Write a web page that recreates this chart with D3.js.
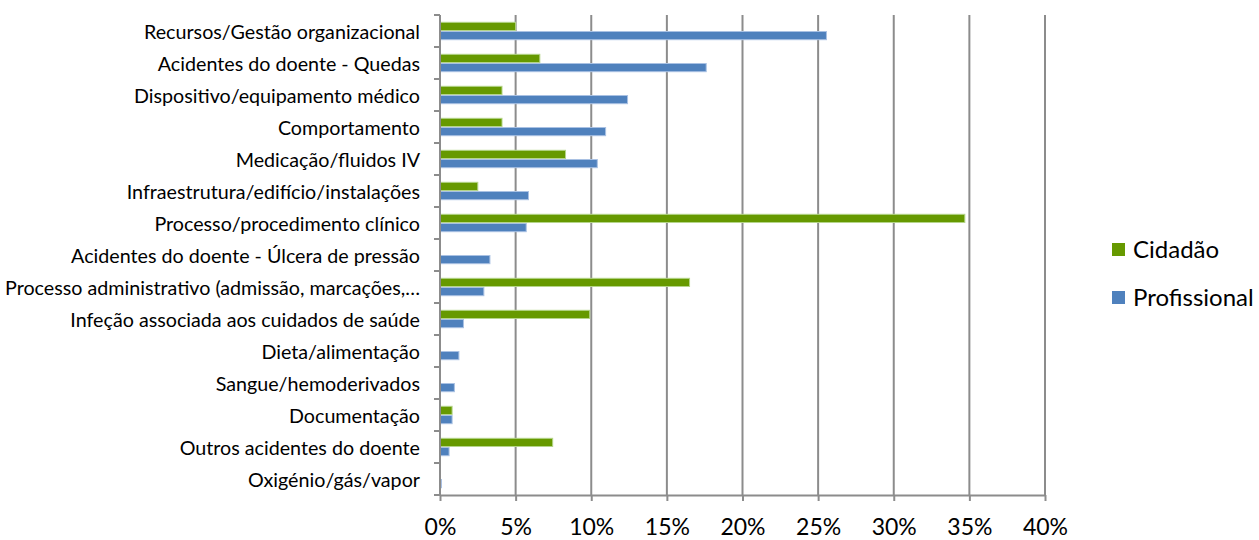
<!DOCTYPE html>
<html>
<head>
<meta charset="utf-8">
<script src="https://cdn.jsdelivr.net/npm/d3@7"></script>
<style>
  body { margin: 0; background: #fff; }
  text { font-family: Lato, "Open Sans", sans-serif; fill: #000; }
</style>
</head>
<body>
<div id="chart"></div>
<script>
// Categories (top to bottom)
var categories = [
  "Recursos/Gestão organizacional",
  "Acidentes do doente - Quedas",
  "Dispositivo/equipamento médico",
  "Comportamento",
  "Medicação/fluidos IV",
  "Infraestrutura/edifício/instalações",
  "Processo/procedimento clínico",
  "Acidentes do doente - Úlcera de pressão",
  "Processo administrativo (admissão, marcações,…",
  "Infeção associada aos cuidados de saúde",
  "Dieta/alimentação",
  "Sangue/hemoderivados",
  "Documentação",
  "Outros acidentes do doente",
  "Oxigénio/gás/vapor"
];

// Series values (%)
var cidadao =      [5.0, 6.6, 4.1, 4.1, 8.3, 2.5, 34.7, 0, 16.5, 9.9, 0, 0, 0.8, 7.45, 0];
var profissional = [25.55, 17.6, 12.4, 10.95, 10.4, 5.85, 5.7, 3.3, 2.9, 1.55, 1.25, 0.95, 0.8, 0.6, 0.1];

var seriesNames = ["Cidadão", "Profissional"];
var xTicks = [0, 5, 10, 15, 20, 25, 30, 35, 40];

var width = 1259,
    height = 540;
var margin = {top: 15, left: 440, right: 214, bottom: 45};
var plotW = width - margin.left - margin.right,
    plotH = height - margin.top - margin.bottom;

var colors = {"Cidadão": "#669900", "Profissional": "#4f81bd"};
var strokes = {"Cidadão": "#b5d58a", "Profissional": "#a9c1e3"};

var svg = d3.select("#chart")
            .append("svg")
              .attr("width", width)
              .attr("height", height);

var g = svg.append("g")
           .attr("transform", "translate(" + margin.left + "," + margin.top + ")");

var x = d3.scaleLinear()
          .domain([0, 40])
          .range([0, plotW]);

var y = d3.scaleBand()
          .domain(categories)
          .range([0, plotH])
          .paddingInner(0.425)
          .paddingOuter(0.2125);

var ySub = d3.scaleBand()
             .domain(seriesNames)
             .range([0, y.bandwidth()]);

// Gridlines
g.append("g")
  .selectAll("line")
  .data(xTicks.slice(1))
  .enter()
  .append("line")
    .attr("x1", function(d) { return x(d); })
    .attr("x2", function(d) { return x(d); })
    .attr("y1", 0)
    .attr("y2", plotH)
    .attr("stroke", "#8c8c8c")
    .attr("stroke-width", 2);

// Bars
var rows = categories.map(function(c, i) {
  return {cat: c, values: [
    {name: "Cidadão", value: cidadao[i]},
    {name: "Profissional", value: profissional[i]}
  ]};
});

var rowG = g.selectAll(".row")
            .data(rows)
            .enter()
            .append("g")
              .attr("class", "row")
              .attr("transform", function(d) { return "translate(0," + y(d.cat) + ")"; });

rowG.selectAll("rect")
    .data(function(d) { return d.values.filter(function(v) { return v.value > 0; }); })
    .enter()
    .append("rect")
      .attr("x", x(0))
      .attr("y", function(d) { return ySub(d.name) + 0.5; })
      .attr("width", function(d) { return x(d.value); })
      .attr("height", ySub.bandwidth() - 1)
      .attr("fill", function(d) { return colors[d.name]; })
      .attr("stroke", function(d) { return strokes[d.name]; })
      .attr("stroke-width", 1);

// Y axis
var yAxis = g.append("g")
             .call(d3.axisLeft(y).tickSize(0).tickPadding(20));
yAxis.select(".domain").remove();
yAxis.selectAll("text")
     .attr("dy", "0.38em")
     .style("font-size", "19.7px");

// Category boundary ticks on the left axis
var bounds = d3.range(categories.length + 1).map(function(i) { return i * plotH / categories.length; });
g.append("g")
  .selectAll("line")
  .data(bounds)
  .enter()
  .append("line")
    .attr("x1", -6)
    .attr("x2", 0)
    .attr("y1", function(d) { return d; })
    .attr("y2", function(d) { return d; })
    .attr("stroke", "#8c8c8c")
    .attr("stroke-width", 2);

g.append("line")
  .attr("x1", 0).attr("x2", 0)
  .attr("y1", 0).attr("y2", plotH)
  .attr("stroke", "#8c8c8c")
  .attr("stroke-width", 2);

// X axis
var xAxis = g.append("g")
             .attr("transform", "translate(0," + plotH + ")")
             .call(d3.axisBottom(x)
                     .tickValues(xTicks)
                     .tickFormat(function(d) { return d + "%"; })
                     .tickSize(6)
                     .tickSizeOuter(0)
                     .tickPadding(18));
xAxis.select(".domain").attr("stroke", "#8c8c8c").attr("stroke-width", 2);
xAxis.selectAll(".tick line").attr("stroke", "#8c8c8c").attr("stroke-width", 2);
xAxis.selectAll("text").style("font-size", "23px");

// Legend
var legend = svg.selectAll(".legend")
                .data(seriesNames)
                .enter()
                .append("g")
                  .attr("class", "legend")
                  .attr("transform", function(d, i) { return "translate(1112," + (243 + i * 48) + ")"; });

legend.append("rect")
      .attr("width", 13)
      .attr("height", 13)
      .attr("fill", function(d) { return colors[d]; });

legend.append("text")
      .attr("x", 21)
      .attr("y", 15)
      .style("font-size", "24px")
      .text(function(d) { return d; });
</script>
</body>
</html>
